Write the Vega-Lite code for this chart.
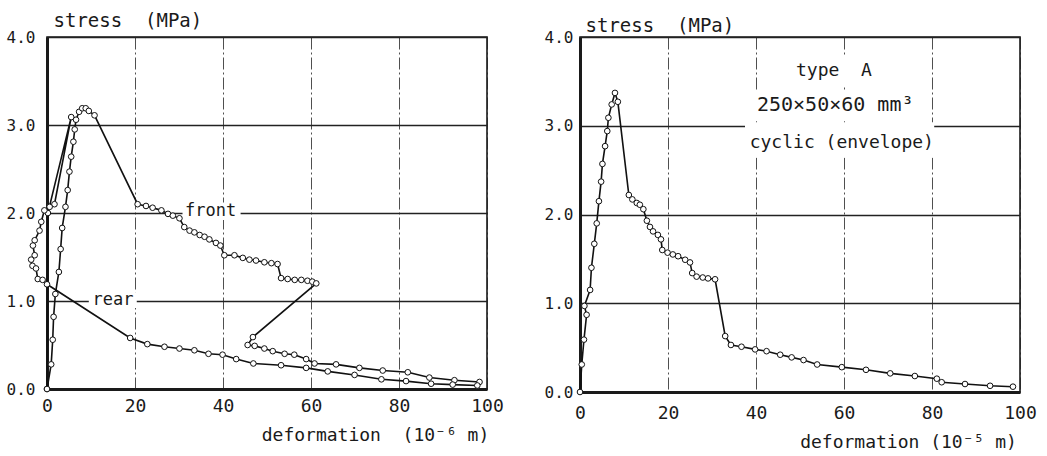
{
  "$schema": "https://vega.github.io/schema/vega-lite/v6.json",
  "background": "white",
  "autosize": {"type": "none"},
  "padding": {"left": 47, "top": 37, "right": 1000, "bottom": 419},
  "bounds": "flush",
  "spacing": 93,
  "config": {
    "view": {"stroke": "#1a1a1a", "strokeWidth": 1.6},
    "axis": {
      "labelFont": "DejaVu Sans Mono", "titleFont": "DejaVu Sans Mono",
      "labelColor": "#1a1a1a", "titleColor": "#1a1a1a", "titleFontWeight": "normal",
      "ticks": false, "domainColor": "#1a1a1a", "domainWidth": 3,
      "gridColor": "#222222", "gridOpacity": 1, "labelFlush": false, "labelOverlap": false
    }
  },
  "datasets": {
    "left": [
      {"s": "front", "i": 0, "x": 0, "y": 0},
      {"s": "front", "i": 1, "x": 0.95, "y": 0.28},
      {"s": "front", "i": 2, "x": 1.3, "y": 0.56},
      {"s": "front", "i": 3, "x": 1.5, "y": 0.82},
      {"s": "front", "i": 4, "x": 1.9, "y": 1.08},
      {"s": "front", "i": 5, "x": 2.7, "y": 1.33},
      {"s": "front", "i": 6, "x": 3.1, "y": 1.59},
      {"s": "front", "i": 7, "x": 3.45, "y": 1.83},
      {"s": "front", "i": 8, "x": 4.2, "y": 2.07},
      {"s": "front", "i": 9, "x": 4.7, "y": 2.26},
      {"s": "front", "i": 10, "x": 5.1, "y": 2.47},
      {"s": "front", "i": 11, "x": 5.5, "y": 2.64},
      {"s": "front", "i": 12, "x": 6.0, "y": 2.81},
      {"s": "front", "i": 13, "x": 6.3, "y": 2.95},
      {"s": "front", "i": 14, "x": 6.6, "y": 3.06},
      {"s": "front", "i": 15, "x": 7.3, "y": 3.15},
      {"s": "front", "i": 16, "x": 8.0, "y": 3.19},
      {"s": "front", "i": 17, "x": 8.8, "y": 3.19},
      {"s": "front", "i": 18, "x": 9.5, "y": 3.16},
      {"s": "front", "i": 19, "x": 10.8, "y": 3.11},
      {"s": "front", "i": 20, "x": 20.6, "y": 2.10},
      {"s": "front", "i": 21, "x": 22.5, "y": 2.08},
      {"s": "front", "i": 22, "x": 24.0, "y": 2.06},
      {"s": "front", "i": 23, "x": 26.0, "y": 2.03},
      {"s": "front", "i": 24, "x": 27.5, "y": 1.99},
      {"s": "front", "i": 25, "x": 28.6, "y": 1.97},
      {"s": "front", "i": 26, "x": 30.1, "y": 1.94},
      {"s": "front", "i": 27, "x": 31.2, "y": 1.84},
      {"s": "front", "i": 28, "x": 32.4, "y": 1.80},
      {"s": "front", "i": 29, "x": 33.5, "y": 1.78},
      {"s": "front", "i": 30, "x": 34.7, "y": 1.75},
      {"s": "front", "i": 31, "x": 35.8, "y": 1.73},
      {"s": "front", "i": 32, "x": 36.9, "y": 1.70},
      {"s": "front", "i": 33, "x": 38.4, "y": 1.66},
      {"s": "front", "i": 34, "x": 39.4, "y": 1.63},
      {"s": "front", "i": 35, "x": 40.3, "y": 1.52},
      {"s": "front", "i": 36, "x": 42.6, "y": 1.52},
      {"s": "front", "i": 37, "x": 44.5, "y": 1.49},
      {"s": "front", "i": 38, "x": 46.0, "y": 1.47},
      {"s": "front", "i": 39, "x": 47.5, "y": 1.46},
      {"s": "front", "i": 40, "x": 49.4, "y": 1.44},
      {"s": "front", "i": 41, "x": 51.0, "y": 1.43},
      {"s": "front", "i": 42, "x": 52.4, "y": 1.42},
      {"s": "front", "i": 43, "x": 53.2, "y": 1.26},
      {"s": "front", "i": 44, "x": 54.7, "y": 1.25},
      {"s": "front", "i": 45, "x": 56.3, "y": 1.24},
      {"s": "front", "i": 46, "x": 57.8, "y": 1.24},
      {"s": "front", "i": 47, "x": 59.2, "y": 1.23},
      {"s": "front", "i": 48, "x": 60.3, "y": 1.22},
      {"s": "front", "i": 49, "x": 61.2, "y": 1.20},
      {"s": "front", "i": 50, "x": 46.8, "y": 0.59},
      {"s": "front", "i": 51, "x": 45.6, "y": 0.50},
      {"s": "front", "i": 52, "x": 47.2, "y": 0.49},
      {"s": "front", "i": 53, "x": 49.4, "y": 0.46},
      {"s": "front", "i": 54, "x": 51.3, "y": 0.43},
      {"s": "front", "i": 55, "x": 54.0, "y": 0.40},
      {"s": "front", "i": 56, "x": 56.2, "y": 0.39},
      {"s": "front", "i": 57, "x": 58.9, "y": 0.34},
      {"s": "front", "i": 58, "x": 60.8, "y": 0.29},
      {"s": "front", "i": 59, "x": 65.7, "y": 0.28},
      {"s": "front", "i": 60, "x": 71.0, "y": 0.24},
      {"s": "front", "i": 61, "x": 76.3, "y": 0.21},
      {"s": "front", "i": 62, "x": 82.0, "y": 0.19},
      {"s": "front", "i": 63, "x": 86.9, "y": 0.13},
      {"s": "front", "i": 64, "x": 92.6, "y": 0.10},
      {"s": "front", "i": 65, "x": 98.3, "y": 0.08},
      {"s": "rear", "i": 0, "x": 0, "y": 0},
      {"s": "rear", "i": 1, "x": 0.2, "y": 2.0},
      {"s": "rear", "i": 2, "x": 5.5, "y": 3.09},
      {"s": "rear", "i": 3, "x": 1.7, "y": 2.10},
      {"s": "rear", "i": 4, "x": 0.6, "y": 2.07},
      {"s": "rear", "i": 5, "x": -0.6, "y": 2.03},
      {"s": "rear", "i": 6, "x": -1.3, "y": 1.90},
      {"s": "rear", "i": 7, "x": -1.7, "y": 1.80},
      {"s": "rear", "i": 8, "x": -2.8, "y": 1.69},
      {"s": "rear", "i": 9, "x": -3.2, "y": 1.63},
      {"s": "rear", "i": 10, "x": -2.8, "y": 1.52},
      {"s": "rear", "i": 11, "x": -3.6, "y": 1.47},
      {"s": "rear", "i": 12, "x": -3.3, "y": 1.40},
      {"s": "rear", "i": 13, "x": -2.5, "y": 1.37},
      {"s": "rear", "i": 14, "x": -2.1, "y": 1.25},
      {"s": "rear", "i": 15, "x": -1.0, "y": 1.24},
      {"s": "rear", "i": 16, "x": 0.0, "y": 1.19},
      {"s": "rear", "i": 17, "x": 18.9, "y": 0.58},
      {"s": "rear", "i": 18, "x": 22.8, "y": 0.51},
      {"s": "rear", "i": 19, "x": 26.7, "y": 0.48},
      {"s": "rear", "i": 20, "x": 30.1, "y": 0.46},
      {"s": "rear", "i": 21, "x": 33.5, "y": 0.44},
      {"s": "rear", "i": 22, "x": 36.7, "y": 0.40},
      {"s": "rear", "i": 23, "x": 39.9, "y": 0.39},
      {"s": "rear", "i": 24, "x": 43.0, "y": 0.34},
      {"s": "rear", "i": 25, "x": 46.9, "y": 0.29},
      {"s": "rear", "i": 26, "x": 53.2, "y": 0.27},
      {"s": "rear", "i": 27, "x": 58.9, "y": 0.24},
      {"s": "rear", "i": 28, "x": 63.8, "y": 0.20},
      {"s": "rear", "i": 29, "x": 69.9, "y": 0.16},
      {"s": "rear", "i": 30, "x": 76.0, "y": 0.11},
      {"s": "rear", "i": 31, "x": 81.6, "y": 0.09},
      {"s": "rear", "i": 32, "x": 87.3, "y": 0.06},
      {"s": "rear", "i": 33, "x": 92.2, "y": 0.05},
      {"s": "rear", "i": 34, "x": 97.8, "y": 0.04}
    ],
    "right": [
      {"i": 0, "x": 0, "y": 0},
      {"i": 1, "x": 0.4, "y": 0.31},
      {"i": 2, "x": 0.9, "y": 0.59},
      {"i": 3, "x": 1.5, "y": 0.87},
      {"i": 4, "x": 1.0, "y": 0.97},
      {"i": 5, "x": 2.3, "y": 1.15},
      {"i": 6, "x": 2.6, "y": 1.40},
      {"i": 7, "x": 3.25, "y": 1.67},
      {"i": 8, "x": 3.8, "y": 1.90},
      {"i": 9, "x": 4.3, "y": 2.15},
      {"i": 10, "x": 4.8, "y": 2.37},
      {"i": 11, "x": 5.1, "y": 2.57},
      {"i": 12, "x": 5.7, "y": 2.77},
      {"i": 13, "x": 6.2, "y": 2.94},
      {"i": 14, "x": 6.45, "y": 3.09},
      {"i": 15, "x": 7.2, "y": 3.24},
      {"i": 16, "x": 7.95, "y": 3.37},
      {"i": 17, "x": 8.6, "y": 3.27},
      {"i": 18, "x": 11.1, "y": 2.22},
      {"i": 19, "x": 11.9, "y": 2.17},
      {"i": 20, "x": 12.9, "y": 2.13},
      {"i": 21, "x": 13.6, "y": 2.11},
      {"i": 22, "x": 14.4, "y": 2.06},
      {"i": 23, "x": 15.2, "y": 1.93},
      {"i": 24, "x": 15.9, "y": 1.86},
      {"i": 25, "x": 16.6, "y": 1.81},
      {"i": 26, "x": 17.7, "y": 1.77},
      {"i": 27, "x": 18.4, "y": 1.72},
      {"i": 28, "x": 18.7, "y": 1.60},
      {"i": 29, "x": 19.9, "y": 1.57},
      {"i": 30, "x": 21.1, "y": 1.55},
      {"i": 31, "x": 22.3, "y": 1.53},
      {"i": 32, "x": 23.9, "y": 1.49},
      {"i": 33, "x": 25.0, "y": 1.46},
      {"i": 34, "x": 25.5, "y": 1.34},
      {"i": 35, "x": 26.5, "y": 1.30},
      {"i": 36, "x": 27.9, "y": 1.29},
      {"i": 37, "x": 29.1, "y": 1.28},
      {"i": 38, "x": 30.7, "y": 1.27},
      {"i": 39, "x": 33.0, "y": 0.63},
      {"i": 40, "x": 34.3, "y": 0.53},
      {"i": 41, "x": 36.7, "y": 0.51},
      {"i": 42, "x": 39.8, "y": 0.48},
      {"i": 43, "x": 42.4, "y": 0.46},
      {"i": 44, "x": 45.5, "y": 0.42},
      {"i": 45, "x": 48.1, "y": 0.39},
      {"i": 46, "x": 50.8, "y": 0.36},
      {"i": 47, "x": 53.9, "y": 0.31},
      {"i": 48, "x": 59.5, "y": 0.28},
      {"i": 49, "x": 65.0, "y": 0.25},
      {"i": 50, "x": 70.5, "y": 0.21},
      {"i": 51, "x": 76.1, "y": 0.18},
      {"i": 52, "x": 81.1, "y": 0.15},
      {"i": 53, "x": 82.2, "y": 0.11},
      {"i": 54, "x": 87.5, "y": 0.09},
      {"i": 55, "x": 93.2, "y": 0.07},
      {"i": 56, "x": 98.4, "y": 0.06}
    ]
  },
  "hconcat": [
    {
      "width": 440,
      "height": 352,
      "layer": [
        {
          "data": {"values": [{}]},
          "mark": {"type": "rect", "fill": "white"},
          "encoding": {
            "x": {"datum": 30.8, "type": "quantitative"},
            "x2": {"datum": 44.0},
            "y": {"datum": 1.92, "type": "quantitative"},
            "y2": {"datum": 2.12}
          }
        },
        {
          "data": {"values": [{}]},
          "mark": {"type": "rect", "fill": "white"},
          "encoding": {
            "x": {"datum": 9.5, "type": "quantitative"},
            "x2": {"datum": 20.4},
            "y": {"datum": 0.92, "type": "quantitative"},
            "y2": {"datum": 1.1}
          }
        },
        {
          "data": {"name": "left"},
          "mark": {"type": "line", "color": "#111111", "strokeWidth": 1.6},
          "encoding": {
            "x": {
              "field": "x", "type": "quantitative",
              "scale": {"domain": [0, 100], "nice": false, "zero": false},
              "axis": {
                "values": [0, 20, 40, 60, 80, 100], "format": "d",
                "title": "deformation\u00a0\u00a0(10⁻⁶ m)",
                "titleX": 328, "titleY": 46, "titleAlign": "center", "titleBaseline": "middle",
                "titleFontSize": 18, "labelFontSize": 18, "labelPadding": 8,
                "grid": true, "gridDash": [12, 3, 2, 3], "gridWidth": 0.8
              }
            },
            "y": {
              "field": "y", "type": "quantitative",
              "scale": {"domain": [0, 4], "nice": false, "zero": false},
              "axis": {
                "values": [0, 1, 2, 3, 4], "format": ".1f",
                "title": "stress\u00a0\u00a0(MPa)",
                "titleAngle": 0, "titleX": 6, "titleY": -17, "titleAlign": "left", "titleBaseline": "middle",
                "titleFontSize": 19, "labelFontSize": 16, "labelPadding": 12,
                "grid": true, "gridWidth": 1.4
              }
            },
            "detail": {"field": "s", "type": "nominal"},
            "order": {"field": "i", "type": "quantitative"}
          }
        },
        {
          "data": {"name": "left"},
          "mark": {"type": "point", "shape": "circle", "filled": true, "fill": "white", "stroke": "#111111", "strokeWidth": 1, "size": 32, "opacity": 1},
          "encoding": {
            "x": {"field": "x", "type": "quantitative"},
            "y": {"field": "y", "type": "quantitative"}
          }
        },
        {
          "data": {"values": [{}]},
          "mark": {"type": "text", "font": "DejaVu Sans Mono", "fontSize": 17, "color": "#1a1a1a", "align": "center", "baseline": "middle"},
          "encoding": {
            "x": {"datum": 37.2, "type": "quantitative"},
            "y": {"datum": 2.02, "type": "quantitative"},
            "text": {"value": "front"}
          }
        },
        {
          "data": {"values": [{}]},
          "mark": {"type": "text", "font": "DejaVu Sans Mono", "fontSize": 17, "color": "#1a1a1a", "align": "center", "baseline": "middle"},
          "encoding": {
            "x": {"datum": 15.0, "type": "quantitative"},
            "y": {"datum": 1.01, "type": "quantitative"},
            "text": {"value": "rear"}
          }
        }
      ]
    },
    {
      "width": 440,
      "height": 355,
      "layer": [
        {
          "data": {"values": [{}]},
          "mark": {"type": "rect", "fill": "white"},
          "encoding": {
            "x": {"datum": 47.7, "type": "quantitative"},
            "x2": {"datum": 67.7},
            "y": {"datum": 3.43, "type": "quantitative"},
            "y2": {"datum": 3.79}
          }
        },
        {
          "data": {"values": [{}]},
          "mark": {"type": "rect", "fill": "white"},
          "encoding": {
            "x": {"datum": 38.2, "type": "quantitative"},
            "x2": {"datum": 77.7},
            "y": {"datum": 3.05, "type": "quantitative"},
            "y2": {"datum": 3.40}
          }
        },
        {
          "data": {"values": [{}]},
          "mark": {"type": "rect", "fill": "white"},
          "encoding": {
            "x": {"datum": 37.5, "type": "quantitative"},
            "x2": {"datum": 80.5},
            "y": {"datum": 2.64, "type": "quantitative"},
            "y2": {"datum": 3.04}
          }
        },
        {
          "data": {"name": "right"},
          "mark": {"type": "line", "color": "#111111", "strokeWidth": 1.6},
          "encoding": {
            "x": {
              "field": "x", "type": "quantitative",
              "scale": {"domain": [0, 100], "nice": false, "zero": false},
              "axis": {
                "values": [0, 20, 40, 60, 80, 100], "format": "d",
                "title": "deformation\u00a0(10⁻⁵ m)",
                "titleX": 328, "titleY": 50, "titleAlign": "center", "titleBaseline": "middle",
                "titleFontSize": 18, "labelFontSize": 18, "labelPadding": 12,
                "grid": true, "gridDash": [12, 3, 2, 3], "gridWidth": 0.8
              }
            },
            "y": {
              "field": "y", "type": "quantitative",
              "scale": {"domain": [0, 4], "nice": false, "zero": false},
              "axis": {
                "values": [0, 1, 2, 3, 4], "format": ".1f",
                "title": "stress\u00a0\u00a0(MPa)",
                "titleAngle": 0, "titleX": 5, "titleY": -12, "titleAlign": "left", "titleBaseline": "middle",
                "titleFontSize": 19, "labelFontSize": 16, "labelPadding": 7,
                "grid": true, "gridWidth": 1.4
              }
            },
            "order": {"field": "i", "type": "quantitative"}
          }
        },
        {
          "data": {"name": "right"},
          "mark": {"type": "point", "shape": "circle", "filled": true, "fill": "white", "stroke": "#111111", "strokeWidth": 1, "size": 32, "opacity": 1},
          "encoding": {
            "x": {"field": "x", "type": "quantitative"},
            "y": {"field": "y", "type": "quantitative"}
          }
        },
        {
          "data": {"values": [{}]},
          "mark": {"type": "text", "font": "DejaVu Sans Mono", "fontSize": 18, "color": "#1a1a1a", "align": "center", "baseline": "middle"},
          "encoding": {
            "x": {"datum": 57.7, "type": "quantitative"},
            "y": {"datum": 3.62, "type": "quantitative"},
            "text": {"value": "type\u00a0\u00a0A"}
          }
        },
        {
          "data": {"values": [{}]},
          "mark": {"type": "text", "font": "DejaVu Sans Mono", "fontSize": 20, "color": "#1a1a1a", "align": "center", "baseline": "middle"},
          "encoding": {
            "x": {"datum": 58.0, "type": "quantitative"},
            "y": {"datum": 3.23, "type": "quantitative"},
            "text": {"value": "250×50×60 mm³"}
          }
        },
        {
          "data": {"values": [{}]},
          "mark": {"type": "text", "font": "DejaVu Sans Mono", "fontSize": 18, "color": "#1a1a1a", "align": "center", "baseline": "middle"},
          "encoding": {
            "x": {"datum": 59.5, "type": "quantitative"},
            "y": {"datum": 2.81, "type": "quantitative"},
            "text": {"value": "cyclic (envelope)"}
          }
        }
      ]
    }
  ]
}
